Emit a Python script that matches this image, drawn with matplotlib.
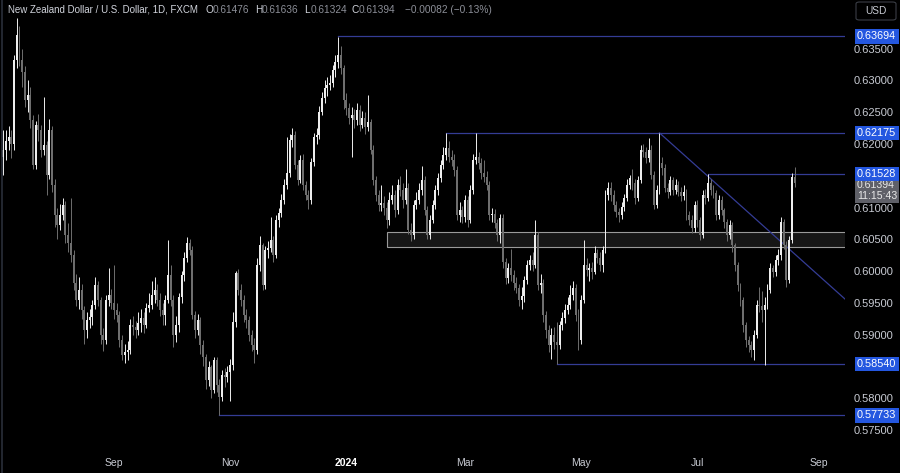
import numpy as np
import pandas as pd
import matplotlib
matplotlib.use("Agg")
import matplotlib.pyplot as plt
from matplotlib.patches import Rectangle, FancyBboxPatch
from matplotlib.lines import Line2D

# NZD/USD daily candles (open = previous close)
first_open = 0.6180
close = [
    0.6191, 0.6205, 0.6211, 0.6200, 0.6332, 0.6372, 0.6332, 0.6313, 0.6269, 0.6277,
    0.6238, 0.6167, 0.6230, 0.6222, 0.6191, 0.6198, 0.6151, 0.6222, 0.6136, 0.6088,
    0.6073, 0.6088, 0.6104, 0.6057, 0.6044, 0.6025, 0.5981, 0.5955, 0.5970, 0.5939,
    0.5907, 0.5923, 0.5928, 0.5947, 0.5978, 0.5955, 0.5900, 0.5892, 0.5955, 0.5963,
    0.5950, 0.5939, 0.5931, 0.5892, 0.5868, 0.5873, 0.5876, 0.5915, 0.5912, 0.5907,
    0.5918, 0.5926, 0.5915, 0.5942, 0.5947, 0.5963, 0.5970, 0.5955, 0.5939, 0.5931,
    0.5955, 0.5994, 0.5955, 0.5900, 0.5915, 0.5959, 0.5994, 0.6021, 0.6044, 0.6033,
    0.5931, 0.5907, 0.5923, 0.5884, 0.5865, 0.5829, 0.5849, 0.5813, 0.5860, 0.5821,
    0.5802, 0.5836, 0.5833, 0.5841, 0.5852, 0.5920, 0.5997, 0.5970, 0.5955, 0.5931,
    0.5923, 0.5900, 0.5884, 0.5876, 0.6010, 0.6041, 0.5978, 0.6033, 0.6036, 0.6049,
    0.6025, 0.6080, 0.6091, 0.6112, 0.6136, 0.6154, 0.6206, 0.6214, 0.6167, 0.6143,
    0.6175, 0.6136, 0.6120, 0.6112, 0.6172, 0.6211, 0.6214, 0.6250, 0.6272, 0.6288,
    0.6293, 0.6296, 0.6316, 0.6329, 0.6340, 0.6320, 0.6269, 0.6257, 0.6241, 0.6246,
    0.6238, 0.6254, 0.6230, 0.6241, 0.6227, 0.6234, 0.6191, 0.6143, 0.6120, 0.6104,
    0.6107, 0.6099, 0.6080, 0.6112, 0.6120, 0.6096, 0.6136, 0.6128, 0.6112, 0.6131,
    0.6065, 0.6057, 0.6104, 0.6112, 0.6128, 0.6143, 0.6096, 0.6057, 0.6080, 0.6104,
    0.6128, 0.6146, 0.6167, 0.6183, 0.6194, 0.6180, 0.6175, 0.6159, 0.6088, 0.6096,
    0.6085, 0.6112, 0.6080, 0.6128, 0.6175, 0.6180, 0.6170, 0.6154, 0.6148, 0.6136,
    0.6088, 0.6090, 0.6076, 0.6057, 0.6083, 0.6014, 0.5989, 0.6005, 0.5994, 0.5981,
    0.5973, 0.5955, 0.5961, 0.5986, 0.6010, 0.6017, 0.6010, 0.6057, 0.5978, 0.5981,
    0.5931, 0.5907, 0.5884, 0.5900, 0.5889, 0.5884, 0.5915, 0.5926, 0.5939, 0.5947,
    0.5963, 0.5973, 0.5931, 0.5892, 0.5955, 0.6010, 0.6002, 0.6005, 0.5999, 0.6028,
    0.6021, 0.6010, 0.6033, 0.6120, 0.6131, 0.6120, 0.6104, 0.6093, 0.6088, 0.6101,
    0.6115, 0.6136, 0.6146, 0.6139, 0.6115, 0.6143, 0.6191, 0.6188, 0.6178, 0.6191,
    0.6151, 0.6104, 0.6128, 0.6170, 0.6162, 0.6131, 0.6125, 0.6143, 0.6128, 0.6136,
    0.6125, 0.6118, 0.6125, 0.6088, 0.6080, 0.6068, 0.6104, 0.6080, 0.6057, 0.6120,
    0.6115, 0.6139, 0.6128, 0.6123, 0.6088, 0.6112, 0.6096, 0.6077, 0.6057, 0.6072,
    0.6041, 0.6010, 0.5978, 0.5955, 0.5915, 0.5892, 0.5884, 0.5876, 0.5900, 0.5947,
    0.5945, 0.5939, 0.5947, 0.5970, 0.6005, 0.5999, 0.6017, 0.6025, 0.6077, 0.6041,
    0.5986, 0.6049, 0.61476, 0.61394,
]
high = [
    0.6222, 0.6222, 0.6228, 0.6222, 0.6340, 0.6398, 0.6385, 0.6350, 0.6322, 0.6300,
    0.6290, 0.6245, 0.6236, 0.6248, 0.6230, 0.6274, 0.6205, 0.6240, 0.6228, 0.6145,
    0.6100, 0.6105, 0.6115, 0.6110, 0.6075, 0.6115, 0.6033, 0.5995, 0.5990, 0.5980,
    0.5945, 0.5935, 0.5940, 0.5955, 0.5990, 0.5985, 0.5960, 0.5910, 0.5962, 0.6005,
    0.5972, 0.6010, 0.5950, 0.5938, 0.5900, 0.5885, 0.5890, 0.5925, 0.5930, 0.5922,
    0.5935, 0.5940, 0.5935, 0.5950, 0.5965, 0.5985, 0.5990, 0.5980, 0.5965, 0.5950,
    0.5962, 0.6049, 0.6010, 0.5962, 0.5930, 0.5965, 0.6000, 0.6030, 0.6053, 0.6050,
    0.6040, 0.5938, 0.5932, 0.5928, 0.5892, 0.5870, 0.5858, 0.5852, 0.5865, 0.5865,
    0.5830, 0.5845, 0.5848, 0.5850, 0.5862, 0.5935, 0.6000, 0.6003, 0.5980, 0.5962,
    0.5940, 0.5930, 0.5908, 0.5895, 0.6020, 0.6055, 0.6045, 0.6040, 0.6048, 0.6085,
    0.6055, 0.6088, 0.6100, 0.6122, 0.6145, 0.6211, 0.6215, 0.6225, 0.6220, 0.6175,
    0.6182, 0.6185, 0.6142, 0.6128, 0.6178, 0.6218, 0.6225, 0.6260, 0.6282, 0.6300,
    0.6305, 0.6308, 0.6325, 0.6340, 0.6369, 0.6355, 0.6325, 0.6280, 0.6265, 0.6258,
    0.6255, 0.6265, 0.6262, 0.6252, 0.6250, 0.6277, 0.6240, 0.6198, 0.6150, 0.6128,
    0.6135, 0.6118, 0.6108, 0.6125, 0.6135, 0.6128, 0.6145, 0.6150, 0.6138, 0.6160,
    0.6138, 0.6075, 0.6112, 0.6125, 0.6138, 0.6165, 0.6150, 0.6102, 0.6088, 0.6112,
    0.6135, 0.6155, 0.6175, 0.6195, 0.62175, 0.6205, 0.6190, 0.6185, 0.6165, 0.6108,
    0.6102, 0.6120, 0.6118, 0.6135, 0.6185, 0.62175, 0.6188, 0.6178, 0.6175, 0.6158,
    0.6142, 0.6100, 0.6098, 0.6082, 0.6090, 0.6090, 0.6020, 0.6012, 0.6035, 0.6002,
    0.5990, 0.5980, 0.5975, 0.5992, 0.6018, 0.6025, 0.6030, 0.6080, 0.6062, 0.5995,
    0.5988, 0.5938, 0.5915, 0.5910, 0.5912, 0.5920, 0.5922, 0.5935, 0.5948, 0.5960,
    0.5978, 0.5985, 0.5980, 0.5940, 0.5962, 0.6049, 0.6020, 0.6012, 0.6015, 0.6040,
    0.6035, 0.6030, 0.6040, 0.6128, 0.6140, 0.6140, 0.6128, 0.6110, 0.6100, 0.6108,
    0.6122, 0.6145, 0.6152, 0.6160, 0.6145, 0.6150, 0.6198, 0.6200, 0.6195, 0.6210,
    0.6198, 0.6158, 0.6135, 0.62175, 0.6180, 0.6168, 0.6138, 0.6150, 0.6148, 0.6145,
    0.6142, 0.6132, 0.6135, 0.6130, 0.6095, 0.6088, 0.6110, 0.6112, 0.6085, 0.6128,
    0.6130, 0.6153, 0.6145, 0.6135, 0.6128, 0.6120, 0.6118, 0.6100, 0.6082, 0.6080,
    0.6078, 0.6045, 0.6015, 0.5982, 0.5960, 0.5920, 0.5898, 0.5890, 0.5908, 0.5955,
    0.5975, 0.5968, 0.5960, 0.5980, 0.6012, 0.6010, 0.6025, 0.6035, 0.6085, 0.6082,
    0.6048, 0.6055, 0.6155, 0.61636,
]
low = [
    0.6151, 0.6175, 0.6190, 0.6178, 0.6190, 0.6320, 0.6322, 0.6290, 0.6258, 0.6250,
    0.6225, 0.6160, 0.6160, 0.6205, 0.6180, 0.6183, 0.6120, 0.6145, 0.6125, 0.6070,
    0.6050, 0.6065, 0.6080, 0.6045, 0.6030, 0.6015, 0.5970, 0.5945, 0.5940, 0.5925,
    0.5885, 0.5895, 0.5910, 0.5915, 0.5940, 0.5945, 0.5885, 0.5875, 0.5885, 0.5945,
    0.5940, 0.5925, 0.5920, 0.5880, 0.5860, 0.5855, 0.5860, 0.5870, 0.5900, 0.5895,
    0.5900, 0.5905, 0.5902, 0.5910, 0.5935, 0.5940, 0.5950, 0.5945, 0.5930, 0.5915,
    0.5915, 0.5950, 0.5945, 0.5880, 0.5888, 0.5905, 0.5950, 0.5985, 0.6015, 0.6025,
    0.5925, 0.5895, 0.5900, 0.5870, 0.5850, 0.5815, 0.5820, 0.5800, 0.5808, 0.5810,
    0.5773, 0.5795, 0.5818, 0.5825, 0.5795, 0.5845, 0.5912, 0.5962, 0.5945, 0.5920,
    0.5910, 0.5890, 0.5875, 0.5855, 0.5870, 0.6000, 0.5970, 0.5972, 0.6020, 0.6030,
    0.6015, 0.6020, 0.6070, 0.6085, 0.6105, 0.6130, 0.6148, 0.6195, 0.6160, 0.6135,
    0.6138, 0.6128, 0.6112, 0.6098, 0.6105, 0.6165, 0.6200, 0.6208, 0.6245, 0.6265,
    0.6275, 0.6285, 0.6290, 0.6305, 0.6320, 0.6310, 0.6255, 0.6245, 0.6232, 0.6180,
    0.6225, 0.6230, 0.6220, 0.6225, 0.6215, 0.6220, 0.6185, 0.6135, 0.6110, 0.6095,
    0.6095, 0.6088, 0.6068, 0.6072, 0.6105, 0.6085, 0.6090, 0.6118, 0.6100, 0.6105,
    0.6058, 0.6047, 0.6050, 0.6098, 0.6105, 0.6120, 0.6088, 0.6050, 0.6050, 0.6075,
    0.6098, 0.6120, 0.6140, 0.6160, 0.6175, 0.6172, 0.6165, 0.6150, 0.6080, 0.6078,
    0.6075, 0.6078, 0.6070, 0.6075, 0.6122, 0.6168, 0.6160, 0.6145, 0.6140, 0.6128,
    0.6080, 0.6078, 0.6068, 0.6048, 0.6045, 0.6005, 0.5980, 0.5982, 0.5985, 0.5970,
    0.5965, 0.5945, 0.5940, 0.5952, 0.5980, 0.6002, 0.6000, 0.6005, 0.5970, 0.5965,
    0.5920, 0.5895, 0.5872, 0.5862, 0.5878, 0.5854, 0.5878, 0.5908, 0.5918, 0.5932,
    0.5940, 0.5955, 0.5922, 0.5876, 0.5885, 0.5950, 0.5992, 0.5985, 0.5988, 0.5995,
    0.6012, 0.6000, 0.5998, 0.6028, 0.6112, 0.6110, 0.6095, 0.6085, 0.6078, 0.6082,
    0.6095, 0.6110, 0.6130, 0.6128, 0.6105, 0.6110, 0.6138, 0.6180, 0.6170, 0.6172,
    0.6145, 0.6098, 0.6100, 0.6122, 0.6152, 0.6125, 0.6115, 0.6120, 0.6120, 0.6122,
    0.6118, 0.6110, 0.6112, 0.6080, 0.6072, 0.6060, 0.6062, 0.6070, 0.6049, 0.6052,
    0.6105, 0.6110, 0.6120, 0.6115, 0.6080, 0.6082, 0.6088, 0.6068, 0.6048, 0.6050,
    0.6030, 0.6000, 0.5968, 0.5945, 0.5905, 0.5880, 0.5872, 0.5865, 0.5860, 0.5895,
    0.5935, 0.5920, 0.5852, 0.5940, 0.5965, 0.5990, 0.5992, 0.6010, 0.6018, 0.6035,
    0.5975, 0.5982, 0.6045, 0.61324,
]
last_day = "2024-08-20"

# drawn levels: (bar where the line starts, price)
levels = [(124, 0.63694), (164, 0.62175), (261, 0.61528), (205, 0.58540), (80, 0.57733)]
zone_start, zone_low, zone_high = 142, 0.6038, 0.6062
trend_x = [243, 261]
trend_y = [0.62175, 0.6149]

month_ticks = ["2023-09", "2023-11", "2024-01", "2024-03", "2024-05", "2024-07", "2024-09"]
month_labels = ["Sep", "Nov", "2024", "Mar", "May", "Jul", "Sep"]

FONT = ["Liberation Sans", "DejaVu Sans"]
plt.rcParams["font.family"] = FONT

n = len(close)
opens = [first_open] + close[:-1]
dates = pd.bdate_range(end=last_day, periods=n)
idx = np.arange(n)

W, H = 900, 473
fig = plt.figure(figsize=(W / 100, H / 100), dpi=100, facecolor="black")
ax = fig.add_axes([0, 25 / H, 845 / W, 448 / H], facecolor="black")
ax.set_xlim(-1.22, 311.7)
ax.set_ylim(0.57217, 0.64266)

up_col, dn_col = "#eeeeee", "#6e6e6e"
o = np.array(opens)
c = np.array(close)
cols = [up_col if cc >= oo else dn_col for oo, cc in zip(o, c)]
ax.vlines(idx, low, high, colors=cols, linewidth=0.7, zorder=3)
body_lo = np.minimum(o, c)
body_h = np.maximum(np.abs(c - o), 0.00012)
ax.bar(idx, body_h, bottom=body_lo, width=0.72, color=cols, linewidth=0, zorder=4)

# support/resistance zone
xr = ax.get_xlim()[1]
ax.add_patch(Rectangle((zone_start, zone_low), xr + 5 - zone_start, zone_high - zone_low,
                       facecolor="#161616", edgecolor="#9a9a9a", linewidth=0.8, zorder=2))

line_col = "#343c95"
for start, price in levels:
    ax.plot([start, xr + 5], [price, price], color=line_col, linewidth=0.9, zorder=2.5)

slope = (trend_y[1] - trend_y[0]) / (trend_x[1] - trend_x[0])
ax.plot([trend_x[0], xr + 5], [trend_y[0], trend_y[0] + slope * (xr + 5 - trend_x[0])],
        color=line_col, linewidth=0.9, zorder=2.5)

# time axis
ext = pd.bdate_range(start=dates[0], end="2024-09-30")
tick_pos = [int(np.argmax(ext.strftime("%Y-%m") == m)) for m in month_ticks]
ax.set_xticks(tick_pos)
ax.set_xticklabels(month_labels)
for lbl, txt in zip(ax.get_xticklabels(), month_labels):
    lbl.set_color("#ffffff" if txt == "2024" else "#c8cbd3")
    if txt == "2024":
        lbl.set_fontweight("bold")
ax.tick_params(axis="x", length=0, pad=7, labelsize=7.5)

# price axis (labels under the level tags are covered in the original)
yt = np.arange(0.575, 0.6351, 0.005)
ax.yaxis.tick_right()
ax.set_yticks(yt)
ax.set_yticklabels(["" if abs(v - 0.615) < 1e-6 or abs(v - 0.585) < 1e-6 else f"{v:.5f}"
                    for v in yt])
ax.tick_params(axis="y", length=0, pad=6, labelsize=8.0, labelcolor="#c8cbd3")
for s in ax.spines.values():
    s.set_visible(False)

ytr = ax.get_yaxis_transform()
tag_x = 1.0142
ax.text(tag_x, 0.61428, f"{close[-1]:.5f}\n11:15:43", transform=ytr,
        ha="left", va="top", fontsize=7.6, color="#e8e8e8", zorder=5, clip_on=False,
        linespacing=1.12, bbox=dict(boxstyle="square,pad=0.2", fc="#5f6068", ec="none"))
for start, price in levels:
    ax.text(tag_x, price, f"{price:.5f}", transform=ytr, ha="left", va="center",
            fontsize=7.8, color="white", zorder=6, clip_on=False,
            bbox=dict(boxstyle="square,pad=0.22", fc="#2457e0", ec="none"))

# header
fig.text(8 / W, 1 - 10 / H, "New Zealand Dollar / U.S. Dollar, 1D, FXCM",
         color="#d1d4dc", fontsize=7.0, va="center")
chg = close[-1] - opens[-1]
pieces = [("O", f"{opens[-1]:.5f}", 206), ("H", f"{high[-1]:.5f}", 255),
          ("L", f"{low[-1]:.5f}", 304), ("C", f"{close[-1]:.5f}", 352)]
for letter, val, px in pieces:
    fig.text(px / W, 1 - 10 / H, letter, color="#d1d4dc", fontsize=7.3, va="center")
    fig.text((px + 7) / W, 1 - 10 / H, val, color="#8c8f98", fontsize=7.3, va="center")
fig.text(405 / W, 1 - 10 / H,
         f"\u2212{abs(chg):.5f} (\u2212{abs(chg) / opens[-1] * 100:.2f}%)",
         color="#8c8f98", fontsize=7.3, va="center")

fig.add_artist(FancyBboxPatch((856 / W, 1 - 20 / H), 40 / W, 18 / H,
                              boxstyle="round,pad=0,rounding_size=0.004",
                              transform=fig.transFigure, fc="black", ec="#3a3d45", lw=0.8))
fig.text(876 / W, 1 - 11 / H, "USD", color="#c8cbd3", fontsize=7.3, ha="center", va="center")
fig.add_artist(Line2D([1.5 / W, 1.5 / W], [0, 1], color="#2a2e39", linewidth=1.2))

fig.savefig("out.png", dpi=100, facecolor="black")
